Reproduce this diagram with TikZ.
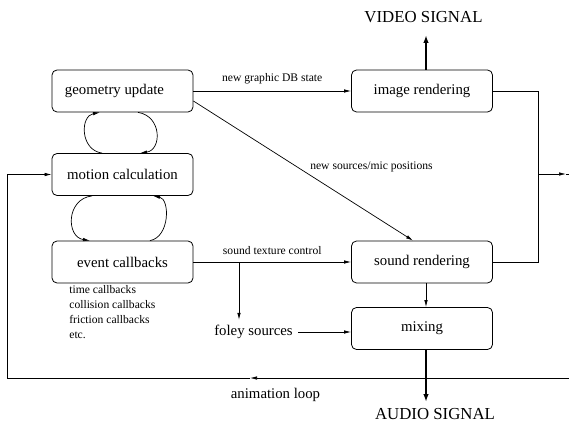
\documentclass[tikz,border=0pt]{standalone}
\usepackage{fontspec}
\setmainfont{Liberation Serif}
\usetikzlibrary{arrows.meta}

\begin{document}
\begin{tikzpicture}[x=1pt,y=-1pt,line width=0.7pt,>={Latex[length=7pt,width=3.5pt]}]
    \tikzstyle{block}=[draw=black,line width=0.8pt,rounded corners=5pt,minimum width=141pt,minimum height=42pt,inner sep=0pt,font=\fontsize{14.8}{17}\selectfont]
    \tikzstyle{annot}=[font=\fontsize{11.6}{15}\selectfont,inner sep=0pt]
    \tikzstyle{plain}=[font=\fontsize{14.8}{17}\selectfont,inner sep=5pt]
    \tikzstyle{signal}=[font=\fontsize{16.8}{19}\selectfont,inner sep=0pt]
    \tikzstyle{thick arrow}=[->,line width=1.8pt,>={Latex[length=8pt,width=5.5pt]}]

    \useasboundingbox (0,0) rectangle (569,438);

    % Draw the simulation blocks
    \node[block] (geo) at (122.5,91) {geometry update\hspace*{16pt}};
    \node[block] (mot) at (122.5,174.5) {motion calculation};
    \node[block] (evt) at (122.5,262) {event callbacks};

    % Draw the rendering blocks
    \node[block] (img) at (422,91) {image rendering};
    \node[block] (snd) at (422,262) {sound rendering};
    \node[block] (mix) at (422,328.5) {mixing};
    \node[plain] (foley) at (253.5,332) {foley sources};

    \node[signal] (video) at (423.5,17) {VIDEO SIGNAL};
    \node[signal] (audio) at (435,414) {AUDIO SIGNAL};

    \node[annot,anchor=north west,align=left] (evlist) at (69,285.5)
        {time callbacks\\collision callbacks\\friction callbacks\\etc.};

    % loops between the simulation blocks
    \draw[->] ([xshift=-20.5pt]mot.north) .. controls (80,150) and (80,116) .. ([xshift=-22.5pt]geo.south);
    \draw[->] ([xshift=15.5pt]geo.south) .. controls (162,116) and (162,150) .. ([xshift=17.5pt]mot.north);
    \draw[->] ([xshift=-30.5pt]mot.south) .. controls (66,199) and (66,237) .. ([xshift=-32.5pt]evt.north);
    \draw[->] ([xshift=27.5pt]evt.north) .. controls (170,237) and (170,199) .. ([xshift=30.5pt]mot.south);

    % connections to the renderers
    \draw[->] (geo.east) -- (img.west)
        node[annot,midway,above=7pt] (gdb) {new graphic DB state};
    \draw[->] ([yshift=-10pt]geo.east) -- ([xshift=-9pt]snd.north);
    \node[annot] (miclbl) at (371.5,167) {new sources/mic positions};
    \draw[->] (evt.east) -- (snd.west)
        node[annot,midway,above=7pt] (stc) {sound texture control};
    \coordinate (fork) at (239,262);
    \draw[->] (fork) -- (fork |- foley.north);
    \draw[->] (foley.east) -- (foley.east -| mix.west);
    \draw[->] ([xshift=4pt]snd.south) -- ([xshift=4pt]mix.north);

    % outputs
    \draw[thick arrow] ([xshift=4pt]img.north) -- (426,35);
    \draw[thick arrow] ([xshift=4pt]mix.south) -- (426,402);
    \coordinate (junc) at (538,174);
    \draw (img.east) -| (junc) |- (snd.east);
    \draw[->] (junc) -- (566,174);
    \draw (566,174) -- (569,174);

    % animation loop
    \coordinate (loopR) at (569,378);
    \coordinate (loopmid) at (250,378);
    \coordinate (loopL) at (7,378);
    \draw[->] (loopR) -- (loopmid);
    \draw[->] (loopmid) -- (loopL) |- (mot.west);
    \node[plain,inner sep=0pt] (anim) at (275.5,395) {animation loop};
\end{tikzpicture}
\end{document}
